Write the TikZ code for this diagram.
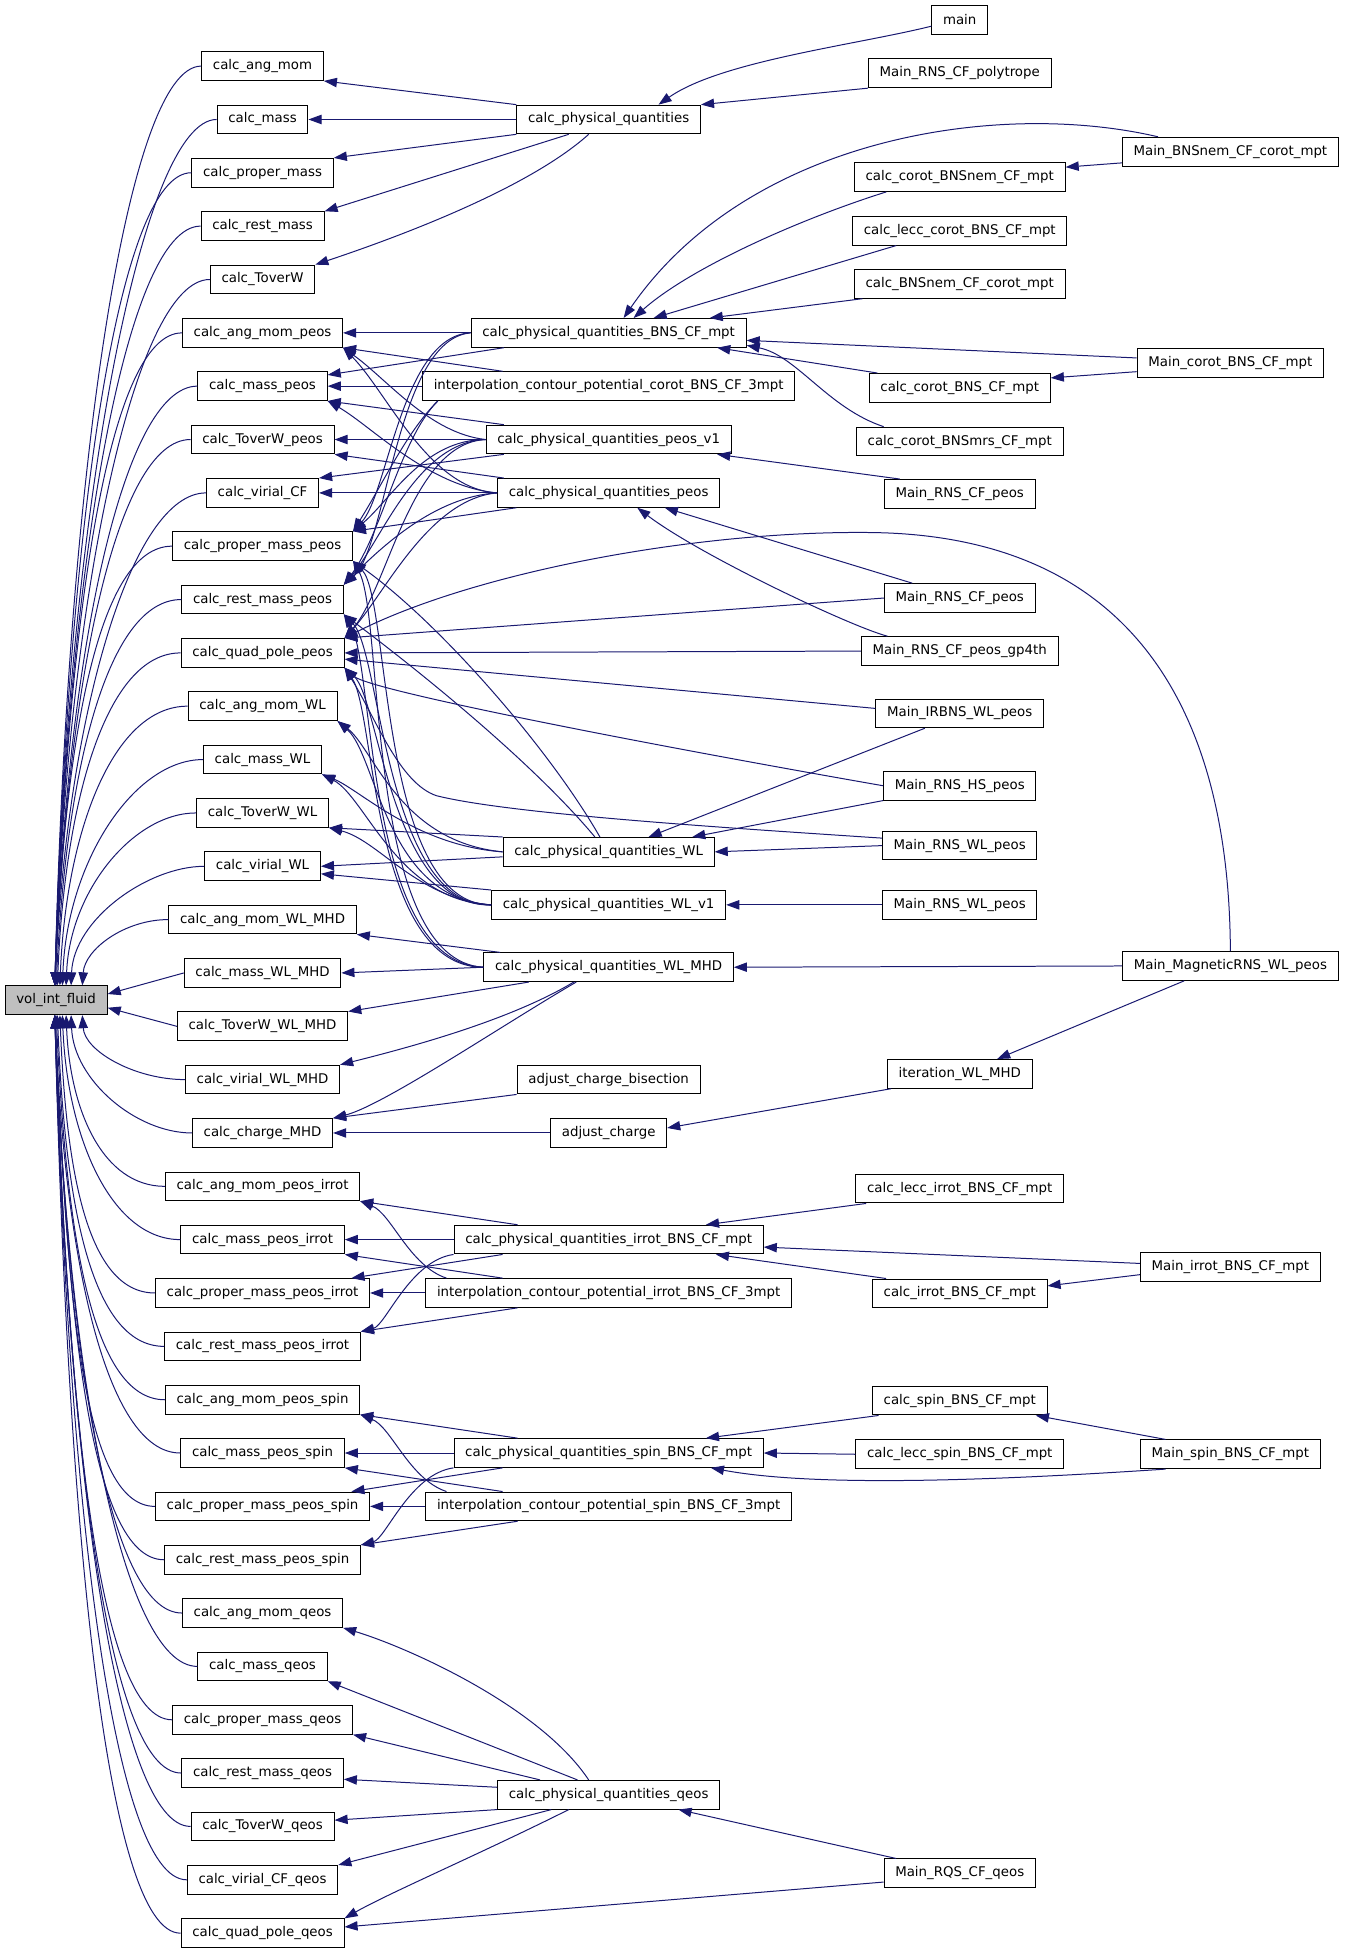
\documentclass[tikz,border=0pt]{standalone}
\usepackage{fontspec}
\newfontfamily\graphfont{DejaVu Sans}
\usetikzlibrary{arrows.meta}
\definecolor{edgeblue}{RGB}{25,25,112}
\definecolor{volgray}{RGB}{191,191,191}

\begin{document}
\begin{tikzpicture}[x=1pt, y=-1pt,
  box/.style={rectangle, draw=black, fill=white, line width=0.8pt, inner xsep=9pt, inner ysep=0pt, minimum height=23pt, font=\graphfont\fontsize{10.7}{12}\selectfont},
  edge/.style={draw=edgeblue, line width=0.8pt, {Triangle[length=10.5pt,width=7.5pt]}-}]
\useasboundingbox (0,0) rectangle (1080,1567.5);

\node (vol) [box, fill=volgray] at (45,802) {vol\_int\_fluid};

\node (ca) [box] at (210.5,53) {calc\_ang\_mom};
\node (cm) [box] at (210.5,95.8) {calc\_mass};
\node (cpm) [box] at (210.5,138.5) {calc\_proper\_mass};
\node (crm) [box] at (210.5,181.3) {calc\_rest\_mass};
\node (ct) [box] at (210.5,224.1) {calc\_ToverW};
\node (camp) [box] at (210.5,266.9) {calc\_ang\_mom\_peos};
\node (cmp) [box] at (210.5,309.6) {calc\_mass\_peos};
\node (ctp) [box] at (210.5,352.4) {calc\_ToverW\_peos};
\node (cvc) [box] at (210.5,395.2) {calc\_virial\_CF};
\node (cpmp) [box] at (210.5,437.9) {calc\_proper\_mass\_peos};
\node (crmp) [box] at (210.5,480.7) {calc\_rest\_mass\_peos};
\node (cqp) [box] at (210.5,523.5) {calc\_quad\_pole\_peos};
\node (camw) [box] at (210.5,566.2) {calc\_ang\_mom\_WL};
\node (cmw) [box] at (210.5,609) {calc\_mass\_WL};
\node (ctw) [box] at (210.5,651.8) {calc\_ToverW\_WL};
\node (cvw) [box] at (210.5,694.6) {calc\_virial\_WL};
\node (camm) [box] at (210.5,737.3) {calc\_ang\_mom\_WL\_MHD};
\node (cmm) [box] at (210.5,780.1) {calc\_mass\_WL\_MHD};
\node (ctm) [box] at (210.5,822.9) {calc\_ToverW\_WL\_MHD};
\node (cvm) [box] at (210.5,865.6) {calc\_virial\_WL\_MHD};
\node (cch) [box] at (210.5,908.4) {calc\_charge\_MHD};
\node (cami) [box] at (210.5,951.2) {calc\_ang\_mom\_peos\_irrot};
\node (cmi) [box] at (210.5,993.9) {calc\_mass\_peos\_irrot};
\node (cpmi) [box] at (210.5,1036.7) {calc\_proper\_mass\_peos\_irrot};
\node (crmi) [box] at (210.5,1079.5) {calc\_rest\_mass\_peos\_irrot};
\node (cams) [box] at (210.5,1122.3) {calc\_ang\_mom\_peos\_spin};
\node (cms) [box] at (210.5,1165) {calc\_mass\_peos\_spin};
\node (cpms) [box] at (210.5,1207.8) {calc\_proper\_mass\_peos\_spin};
\node (crms) [box] at (210.5,1250.6) {calc\_rest\_mass\_peos\_spin};
\node (camq) [box] at (210.5,1293.3) {calc\_ang\_mom\_qeos};
\node (cmq) [box] at (210.5,1336.1) {calc\_mass\_qeos};
\node (cpmq) [box] at (210.5,1378.9) {calc\_proper\_mass\_qeos};
\node (crmq) [box] at (210.5,1421.6) {calc\_rest\_mass\_qeos};
\node (ctq) [box] at (210.5,1464.4) {calc\_ToverW\_qeos};
\node (cvq) [box] at (210.5,1507.2) {calc\_virial\_CF\_qeos};
\node (cqq) [box] at (210.5,1550) {calc\_quad\_pole\_qeos};

\node (cpq) [box] at (488,95.8) {calc\_physical\_quantities};
\node (pqbns) [box] at (488,266.9) {calc\_physical\_quantities\_BNS\_CF\_mpt};
\node (intcorot) [box] at (488,309.6) {interpolation\_contour\_potential\_corot\_BNS\_CF\_3mpt};
\node (pqv1) [box] at (488,352.4) {calc\_physical\_quantities\_peos\_v1};
\node (pqpeos) [box] at (488,395.2) {calc\_physical\_quantities\_peos};
\node (pqwl) [box] at (488,683) {calc\_physical\_quantities\_WL};
\node (pqwlv1) [box] at (488,725.5) {calc\_physical\_quantities\_WL\_v1};
\node (pqmhd) [box] at (488,775.5) {calc\_physical\_quantities\_WL\_MHD};
\node (acbis) [box] at (488,865.6) {adjust\_charge\_bisection};
\node (adjch) [box] at (488,908.4) {adjust\_charge};
\node (pqirrot) [box] at (488,993.9) {calc\_physical\_quantities\_irrot\_BNS\_CF\_mpt};
\node (intirrot) [box] at (488,1036.7) {interpolation\_contour\_potential\_irrot\_BNS\_CF\_3mpt};
\node (pqspin) [box] at (488,1165) {calc\_physical\_quantities\_spin\_BNS\_CF\_mpt};
\node (intspin) [box] at (488,1207.8) {interpolation\_contour\_potential\_spin\_BNS\_CF\_3mpt};
\node (pqqeos) [box] at (488,1439) {calc\_physical\_quantities\_qeos};

\node (main) [box] at (769.5,16) {main};
\node (mrnspoly) [box] at (769.5,58.8) {Main\_RNS\_CF\_polytrope};
\node (corotnem) [box] at (769.5,142) {calc\_corot\_BNSnem\_CF\_mpt};
\node (lecccorot) [box] at (769.5,185) {calc\_lecc\_corot\_BNS\_CF\_mpt};
\node (nemcorot) [box] at (769.5,227.6) {calc\_BNSnem\_CF\_corot\_mpt};
\node (corotbns) [box] at (769.5,311) {calc\_corot\_BNS\_CF\_mpt};
\node (corotmrs) [box] at (769.5,354) {calc\_corot\_BNSmrs\_CF\_mpt};
\node (mrnscf) [box] at (769.5,396) {Main\_RNS\_CF\_peos};
\node (mrnscfb) [box] at (769.5,479.5) {Main\_RNS\_CF\_peos};
\node (mgp4th) [box] at (769.5,522) {Main\_RNS\_CF\_peos\_gp4th};
\node (mirbns) [box] at (769.5,572) {Main\_IRBNS\_WL\_peos};
\node (mhs) [box] at (769.5,630) {Main\_RNS\_HS\_peos};
\node (mwl) [box] at (769.5,678) {Main\_RNS\_WL\_peos};
\node (mwlb) [box] at (769.5,725.5) {Main\_RNS\_WL\_peos};
\node (iterwl) [box] at (769.5,861) {iteration\_WL\_MHD};
\node (leccirrot) [box] at (769.5,953) {calc\_lecc\_irrot\_BNS\_CF\_mpt};
\node (irrotbns) [box] at (769.5,1037) {calc\_irrot\_BNS\_CF\_mpt};
\node (spinbns) [box] at (769.5,1123) {calc\_spin\_BNS\_CF\_mpt};
\node (leccspin) [box] at (769.5,1166) {calc\_lecc\_spin\_BNS\_CF\_mpt};
\node (mrqs) [box] at (769.5,1502) {Main\_RQS\_CF\_qeos};

\node (mnem) [box] at (986.5,121.6) {Main\_BNSnem\_CF\_corot\_mpt};
\node (mcorot) [box] at (986.5,291) {Main\_corot\_BNS\_CF\_mpt};
\node (mmag) [box] at (986.5,774.5) {Main\_MagneticRNS\_WL\_peos};
\node (mirrot) [box] at (986.5,1016) {Main\_irrot\_BNS\_CF\_mpt};
\node (mspin) [box] at (986.5,1166) {Main\_spin\_BNS\_CF\_mpt};

\draw [edge] ([xshift=-1pt]vol.north) .. controls +(10,-406) and +(-60,0) .. (ca.west);
\draw [edge] ([xshift=-1pt]vol.north) .. controls +(10,-382) and +(-60,0) .. (cm.west);
\draw [edge] ([xshift=-1pt]vol.north) .. controls +(10,-359) and +(-60,0) .. (cpm.west);
\draw [edge] ([xshift=-1pt]vol.north) .. controls +(10,-335) and +(-60,0) .. (crm.west);
\draw [edge] ([xshift=-1pt]vol.north) .. controls +(10,-312) and +(-60,0) .. (ct.west);
\draw [edge] ([xshift=-1pt]vol.north) .. controls +(10,-288) and +(-60,0) .. (camp.west);
\draw [edge] ([xshift=-1pt]vol.north) .. controls +(10,-265) and +(-60,0) .. (cmp.west);
\draw [edge] ([xshift=-1pt]vol.north) .. controls +(10,-241) and +(-60,0) .. (ctp.west);
\draw [edge] ([xshift=-1pt]vol.north) .. controls +(10,-217) and +(-60,0) .. (cvc.west);
\draw [edge] ([xshift=-1pt]vol.north) .. controls +(8,-194) and +(-60,0) .. (cpmp.west);
\draw [edge] (vol.north) .. controls +(8,-170) and +(-60,0) .. (crmp.west);
\draw [edge] ([xshift=1pt]vol.north) .. controls +(6,-147) and +(-60,0) .. (cqp.west);
\draw [edge] ([xshift=3pt]vol.north) .. controls +(5,-123) and +(-60,0) .. (camw.west);
\draw [edge] ([xshift=5pt]vol.north) .. controls +(4,-100) and +(-55,0) .. (cmw.west);
\draw [edge] ([xshift=8pt]vol.north) .. controls +(3,-76) and +(-50,0) .. (ctw.west);
\draw [edge] ([xshift=12pt]vol.north) .. controls +(2,-53) and +(-45,0) .. (cvw.west);
\draw [edge] ([xshift=21pt]vol.north) .. controls +(2,-29) and +(-35,0) .. (camm.west);
\draw [edge] ([yshift=5pt]vol.east) -- (cmm.west);
\draw [edge] ([yshift=-6pt]vol.east) -- (ctm.west);
\draw [edge] ([xshift=21pt]vol.south) .. controls +(2,29) and +(-40,0) .. (cvm.west);
\draw [edge] ([xshift=12pt]vol.south) .. controls +(2,52) and +(-45,0) .. (cch.west);
\draw [edge] ([xshift=8pt]vol.south) .. controls +(3,76) and +(-50,0) .. (cami.west);
\draw [edge] ([xshift=5pt]vol.south) .. controls +(4,99) and +(-55,0) .. (cmi.west);
\draw [edge] ([xshift=3pt]vol.south) .. controls +(5,123) and +(-55,0) .. (cpmi.west);
\draw [edge] ([xshift=1pt]vol.south) .. controls +(6,146) and +(-60,0) .. (crmi.west);
\draw [edge] (vol.south) .. controls +(8,170) and +(-60,0) .. (cams.west);
\draw [edge] ([xshift=-1pt]vol.south) .. controls +(8,193) and +(-60,0) .. (cms.west);
\draw [edge] ([xshift=-1pt]vol.south) .. controls +(10,217) and +(-60,0) .. (cpms.west);
\draw [edge] ([xshift=-1pt]vol.south) .. controls +(10,240) and +(-60,0) .. (crms.west);
\draw [edge] ([xshift=-1pt]vol.south) .. controls +(10,264) and +(-60,0) .. (camq.west);
\draw [edge] ([xshift=-1pt]vol.south) .. controls +(10,287) and +(-60,0) .. (cmq.west);
\draw [edge] ([xshift=-1pt]vol.south) .. controls +(10,311) and +(-60,0) .. (cpmq.west);
\draw [edge] ([xshift=-1pt]vol.south) .. controls +(10,334) and +(-60,0) .. (crmq.west);
\draw [edge] ([xshift=-1pt]vol.south) .. controls +(10,358) and +(-60,0) .. (ctq.west);
\draw [edge] ([xshift=-1pt]vol.south) .. controls +(10,382) and +(-60,0) .. (cvq.west);
\draw [edge] ([xshift=-1pt]vol.south) .. controls +(10,405) and +(-60,0) .. (cqq.west);

\draw [edge] (ca.south east) -- (cpq.north west);
\draw [edge] (cm.east) -- (cpq.west);
\draw [edge] (cpm.north east) -- (cpq.south west);
\draw [edge] (crm.north east) -- ([xshift=-32pt]cpq.south);
\draw [edge] (ct.north east) .. controls +(60,-20) and +(-50,45) .. ([xshift=-16pt]cpq.south);
\draw [edge] ([xshift=40pt]cpq.north) .. controls +(50,-35) and +(-60,15) .. ([yshift=-5pt]main.west);
\draw [edge] (cpq.north east) -- (mrnspoly.south west);

\draw [edge] ([xshift=12pt]pqbns.north) .. controls +(100,-145) and +(-128,-30) .. ([xshift=-58pt]mnem.north);
\draw [edge] ([xshift=20pt]pqbns.north) .. controls +(45,-40) and +(-70,22) .. ([xshift=-59pt]corotnem.south);
\draw [edge] ([xshift=36pt]pqbns.north) -- ([xshift=-51pt]lecccorot.south);
\draw [edge] ([xshift=81pt]pqbns.north) -- ([xshift=-78pt]nemcorot.south);
\draw [edge] ([yshift=-6pt]pqbns.east) -- ([yshift=4pt]mcorot.west);
\draw [edge] ([xshift=87pt]pqbns.south) -- ([xshift=-66pt]corotbns.north);
\draw [edge] ([yshift=-10pt]pqbns.east) .. controls +(40,8) and +(-45,-15) .. ([xshift=-61pt]corotmrs.north);
\draw [edge] ([yshift=8pt]corotbns.east) -- ([yshift=-7pt]mcorot.west);
\draw [edge] ([yshift=8pt]corotnem.east) -- ([yshift=-9pt]mnem.west);

\draw [edge] (camp.east) -- (pqbns.west);
\draw [edge] ([yshift=9pt]cmp.east) -- ([xshift=-84pt]pqbns.south);
\draw [edge] (cpmp.north east) .. controls +(28,-30) and +(-55,2) .. (pqbns.west);
\draw [edge] (crmp.north east) .. controls +(35,-30) and +(-60,5) .. (pqbns.west);
\draw [edge] (camp.south east) -- ([xshift=-85pt]intcorot.north);
\draw [edge] (cmp.east) -- (intcorot.west);
\draw [edge] (cpmp.north east) .. controls +(25,-40) and +(-25,25) .. ([xshift=-137pt]intcorot.south);
\draw [edge] (crmp.north east) .. controls +(30,-40) and +(-30,30) .. ([xshift=-137pt]intcorot.south);
\draw [edge] (camp.south east) .. controls +(35,25) and +(-45,-5) .. (pqv1.west);
\draw [edge] (cmp.south east) -- ([xshift=-84pt]pqv1.north);
\draw [edge] (ctp.east) -- (pqv1.west);
\draw [edge] (cvc.north east) -- ([xshift=-84pt]pqv1.south);
\draw [edge] (cpmp.north east) .. controls +(30,-25) and +(-50,0) .. (pqv1.west);
\draw [edge] (crmp.north east) .. controls +(30,-35) and +(-55,2) .. (pqv1.west);
\draw [edge] (cqp.north east) .. controls +(35,-40) and +(-60,3) .. (pqv1.west);
\draw [edge] (camp.south east) .. controls +(35,35) and +(-55,-3) .. (pqpeos.west);
\draw [edge] (cmp.south east) .. controls +(35,20) and +(-55,-5) .. (pqpeos.west);
\draw [edge] (ctp.south east) -- ([xshift=-84pt]pqpeos.north);
\draw [edge] (cvc.east) -- (pqpeos.west);
\draw [edge] (cpmp.north east) -- ([xshift=-74pt]pqpeos.south);
\draw [edge] (crmp.north east) .. controls +(30,-30) and +(-50,3) .. (pqpeos.west);
\draw [edge] (cqp.north east) .. controls +(32,-35) and +(-55,5) .. (pqpeos.west);

\draw [edge] ([xshift=87pt]pqv1.south) -- ([xshift=-48pt]mrnscf.north);
\draw [edge] ([xshift=45pt]pqpeos.south) -- ([xshift=-38pt]mrnscfb.north);
\draw [edge] ([xshift=23pt]pqpeos.south) .. controls +(50,38) and +(-30,-8) .. ([xshift=-58pt]mgp4th.north);
\draw [edge] (cqp.north east) -- (mrnscfb.west);
\draw [edge] (cqp.east) -- (mgp4th.west);
\draw [edge] ([yshift=-5pt]cqp.east) -- ([yshift=4pt]mirbns.west);
\draw [edge] (cqp.south east) .. controls +(20,18) and +(-200,-35) .. (mhs.west);
\draw [edge] (cqp.south east) .. controls +(25,40) and +(-30,-10) .. (350,638) .. controls +(60,15) and +(-120,-8) .. ([yshift=6pt]mwl.west);
\draw [edge] (cqp.north east) .. controls +(104,-53) and +(-140,-2) .. (700,427) .. controls +(200,3) and +(-1,-203) .. (mmag.north);

\draw [edge] (camw.south east) .. controls +(29,22) and +(-83,-8) .. (pqwl.west);
\draw [edge] (cmw.south east) .. controls +(30,12) and +(-70,-5) .. (pqwl.west);
\draw [edge] (ctw.south east) -- (pqwl.north west);
\draw [edge] (cvw.east) -- ([yshift=-4pt]pqwl.west);
\draw [edge] (cpmp.south east) .. controls +(70,50) and +(-40,-70) .. ([xshift=-7pt]pqwl.north);
\draw [edge] (crmp.south east) .. controls +(60,45) and +(-50,-60) .. ([xshift=-11pt]pqwl.north);
\draw [edge] (camw.south east) .. controls +(32,28) and +(-85,-5) .. (pqwlv1.west);
\draw [edge] (cmw.south east) .. controls +(35,18) and +(-75,-3) .. (pqwlv1.west);
\draw [edge] (ctw.south east) .. controls +(40,10) and +(-60,-5) .. (pqwlv1.west);
\draw [edge] ([yshift=-6pt]cvw.east) -- (pqwlv1.north west);
\draw [edge] (cpmp.south east) .. controls +(30,30) and +(-90,0) .. (pqwlv1.west);
\draw [edge] (crmp.south east) .. controls +(30,30) and +(-85,2) .. (pqwlv1.west);
\draw [edge] (cqp.south east) .. controls +(28,25) and +(-80,3) .. (pqwlv1.west);
\draw [edge] (camm.south east) -- ([xshift=-87pt]pqmhd.north);
\draw [edge] (cmm.east) -- (pqmhd.west);
\draw [edge] (ctm.north east) -- ([xshift=-64pt]pqmhd.south);
\draw [edge] (cvm.north east) .. controls +(60,-15) and +(-50,30) .. ([xshift=-28pt]pqmhd.south);
\draw [edge] (cch.north east) .. controls +(40,-10) and +(-60,35) .. ([xshift=-26pt]pqmhd.south);
\draw [edge] (cpmp.south east) .. controls +(25,45) and +(-95,-5) .. (pqmhd.west);
\draw [edge] (crmp.south east) .. controls +(25,40) and +(-95,-3) .. (pqmhd.west);
\draw [edge] (cqp.south east) .. controls +(25,35) and +(-90,0) .. (pqmhd.west);

\draw [edge] ([xshift=32pt]pqwl.north) -- ([xshift=-28pt]mirbns.south);
\draw [edge] ([xshift=67pt]pqwl.north) -- (mhs.south west);
\draw [edge] (pqwl.east) -- (mwl.west);
\draw [edge] (pqwlv1.east) -- (mwlb.west);
\draw [edge] (pqmhd.east) -- (mmag.west);
\draw [edge] ([xshift=30pt]iterwl.north) -- ([xshift=-37pt]mmag.south);
\draw [edge] ([yshift=4pt]adjch.east) -- ([xshift=-55pt]iterwl.south);
\draw [edge] (cch.east) -- (adjch.west);
\draw [edge] (cch.north east) -- (acbis.south west);

\draw [edge] (cami.south east) -- ([xshift=-73pt]pqirrot.north);
\draw [edge] (cmi.east) -- (pqirrot.west);
\draw [edge] ([xshift=-15pt]cpmi.north east) -- ([xshift=-85pt]pqirrot.south);
\draw [edge] (crmi.north east) .. controls +(20,-5) and +(-35,5) .. (pqirrot.south west);
\draw [edge] (cami.south east) .. controls +(25,10) and +(-30,-10) .. ([xshift=-130pt]intirrot.north);
\draw [edge] (cmi.south east) -- ([xshift=-85pt]intirrot.north);
\draw [edge] (cpmi.east) -- (intirrot.west);
\draw [edge] (crmi.north east) -- ([xshift=-73pt]intirrot.south);
\draw [edge] ([xshift=78pt]pqirrot.north) -- ([xshift=-75pt]leccirrot.south);
\draw [edge] ([yshift=-6pt]pqirrot.east) -- ([yshift=3pt]mirrot.west);
\draw [edge] ([xshift=86pt]pqirrot.south) -- ([xshift=-59pt]irrotbns.north);
\draw [edge] ([yshift=6pt]irrotbns.east) -- ([yshift=-6pt]mirrot.west);

\draw [edge] (cams.south east) -- ([xshift=-73pt]pqspin.north);
\draw [edge] (cms.east) -- (pqspin.west);
\draw [edge] ([xshift=-15pt]cpms.north east) -- ([xshift=-85pt]pqspin.south);
\draw [edge] (crms.north east) .. controls +(20,-5) and +(-35,5) .. (pqspin.south west);
\draw [edge] (cams.south east) .. controls +(25,10) and +(-30,-10) .. ([xshift=-130pt]intspin.north);
\draw [edge] (cms.south east) -- ([xshift=-85pt]intspin.north);
\draw [edge] (cpms.east) -- (intspin.west);
\draw [edge] (crms.north east) -- ([xshift=-73pt]intspin.south);
\draw [edge] ([xshift=78pt]pqspin.north) -- ([xshift=-65pt]spinbns.south);
\draw [edge] (pqspin.east) -- (leccspin.west);
\draw [edge] ([xshift=61pt]spinbns.south) -- ([xshift=-52pt]mspin.north);
\draw [edge] ([xshift=82pt]pqspin.south) .. controls +(80,15) and +(-150,10) .. ([xshift=-52pt]mspin.south);

\draw [edge] (camq.south east) .. controls +(50,15) and +(-40,-60) .. ([xshift=-16pt]pqqeos.north);
\draw [edge] (cmq.south east) -- ([xshift=-25pt]pqqeos.north);
\draw [edge] (cpmq.south east) -- ([xshift=-55pt]pqqeos.north);
\draw [edge] ([yshift=-5pt]crmq.east) -- ([yshift=6pt]pqqeos.west);
\draw [edge] ([yshift=5pt]ctq.east) -- (pqqeos.south west);
\draw [edge] (cvq.north east) -- ([xshift=-46pt]pqqeos.south);
\draw [edge] (cqq.north east) .. controls +(35,-20) and +(-70,35) .. ([xshift=-32pt]pqqeos.south);
\draw [edge] ([xshift=56pt]pqqeos.south) -- ([xshift=-51pt]mrqs.north);
\draw [edge] ([yshift=5pt]cqq.east) -- ([yshift=-7pt]mrqs.west);
\end{tikzpicture}
\end{document}
